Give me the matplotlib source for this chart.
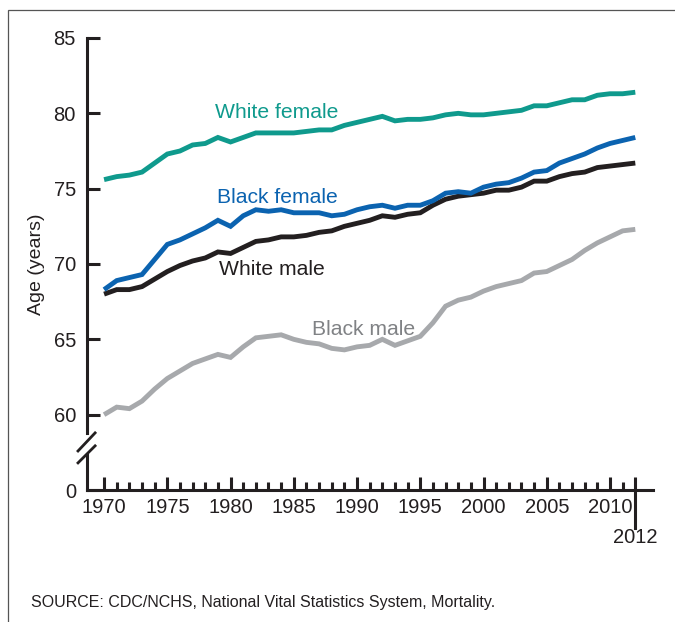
import matplotlib.pyplot as plt
from matplotlib.patches import Rectangle
from matplotlib.lines import Line2D
import matplotlib.transforms as mtransforms

plt.rcParams['font.family'] = ['Liberation Sans', 'DejaVu Sans']

years = list(range(1970, 2013))

white_female = [75.6, 75.8, 75.9, 76.1, 76.7, 77.3, 77.5, 77.9, 78.0, 78.4,
                78.1, 78.4, 78.7, 78.7, 78.7, 78.7, 78.8, 78.9, 78.9, 79.2,
                79.4, 79.6, 79.8, 79.5, 79.6, 79.6, 79.7, 79.9, 80.0, 79.9,
                79.9, 80.0, 80.1, 80.2, 80.5, 80.5, 80.7, 80.9, 80.9, 81.2,
                81.3, 81.3, 81.4]
black_female = [68.3, 68.9, 69.1, 69.3, 70.3, 71.3, 71.6, 72.0, 72.4, 72.9,
                72.5, 73.2, 73.6, 73.5, 73.6, 73.4, 73.4, 73.4, 73.2, 73.3,
                73.6, 73.8, 73.9, 73.7, 73.9, 73.9, 74.2, 74.7, 74.8, 74.7,
                75.1, 75.3, 75.4, 75.7, 76.1, 76.2, 76.7, 77.0, 77.3, 77.7,
                78.0, 78.2, 78.4]
white_male = [68.0, 68.3, 68.3, 68.5, 69.0, 69.5, 69.9, 70.2, 70.4, 70.8,
              70.7, 71.1, 71.5, 71.6, 71.8, 71.8, 71.9, 72.1, 72.2, 72.5,
              72.7, 72.9, 73.2, 73.1, 73.3, 73.4, 73.9, 74.3, 74.5, 74.6,
              74.7, 74.9, 74.9, 75.1, 75.5, 75.5, 75.8, 76.0, 76.1, 76.4,
              76.5, 76.6, 76.7]
black_male = [60.0, 60.5, 60.4, 60.9, 61.7, 62.4, 62.9, 63.4, 63.7, 64.0,
              63.8, 64.5, 65.1, 65.2, 65.3, 65.0, 64.8, 64.7, 64.4, 64.3,
              64.5, 64.6, 65.0, 64.6, 64.9, 65.2, 66.1, 67.2, 67.6, 67.8,
              68.2, 68.5, 68.7, 68.9, 69.4, 69.5, 69.9, 70.3, 70.9, 71.4,
              71.8, 72.2, 72.3]

# name, values, line colour, label colour, label x, label baseline y
series = [
    ('Black male', black_male, '#a7a9ac', '#808285', 1990.5, 65.3),
    ('White male', white_male, '#231f20', '#231f20', 1983.3, 69.27),
    ('Black female', black_female, '#0b63b0', '#0b63b0', 1983.7, 74.05),
    ('White female', white_female, '#0f9a8d', '#0f9a8d', 1983.65, 79.7),
]

y_ticks = [55, 60, 65, 70, 75, 80, 85]
y_labels = ['0', '60', '65', '70', '75', '80', '85']
x_major = [1970, 1975, 1980, 1985, 1990, 1995, 2000, 2005, 2010]

fig = plt.figure(figsize=(6.75, 6.22), dpi=100)
ax = fig.add_axes([87 / 675, 1 - 490 / 622, 566 / 675, 452 / 622])

for name, vals, color, tcolor, tx, ty in series:
    ax.plot(years, vals, color=color, lw=3.5, solid_capstyle='butt',
            solid_joinstyle='miter')
    ax.text(tx, ty, name, color=tcolor, fontsize=15.2, ha='center',
            va='baseline')

x0 = 1968.65
ax.set_xlim(x0, 2013.4)
ax.set_ylim(55, 85)

axis_color = '#231f20'
for s in ['top', 'right', 'left']:
    ax.spines[s].set_visible(False)
ax.spines['bottom'].set_color(axis_color)
ax.spines['bottom'].set_linewidth(2.2)

# y axis drawn in two pieces with a break
ax.plot([x0, x0], [58.8, 85], color=axis_color, lw=2.2, clip_on=False,
        solid_capstyle='projecting')
ax.plot([x0, x0], [55, 57.35], color=axis_color, lw=2.2, clip_on=False)
ax.plot([1967.94, 1969.29], [57.59, 58.79], color=axis_color, lw=2,
        clip_on=False)
ax.plot([1967.94, 1969.29], [56.8, 57.93], color=axis_color, lw=2,
        clip_on=False)

ax.set_yticks(y_ticks)
ax.set_yticklabels(y_labels)
ax.set_xticks(x_major + [2012])
ax.set_xticklabels([str(x) for x in x_major] + [''])
ax.set_xticks(years, minor=True)
ax.tick_params(axis='both', which='major', direction='in', length=9.5,
               width=2.2, color=axis_color, labelsize=14.5,
               labelcolor=axis_color)
ax.tick_params(axis='y', which='major', pad=8)
ax.tick_params(axis='x', which='major', pad=6)
ax.tick_params(axis='x', which='minor', direction='in', length=5.7,
               width=2.2, color=axis_color)
ax.tick_params(axis='y', which='minor', left=False)

# the 2012 tick runs below the axis with its own label
blend = mtransforms.blended_transform_factory(ax.transData, ax.transAxes)
ax.add_line(Line2D([2012, 2012], [0, -0.083], transform=blend,
                   color=axis_color, lw=2.2, clip_on=False))
ax.text(2012, -0.105, '2012', transform=blend, ha='center', va='center',
        fontsize=14.5, color=axis_color)

ax.set_ylabel('Age (years)', fontsize=14, color=axis_color, labelpad=6)

fig.text(31 / 675, 1 - 607 / 622,
         'SOURCE: CDC/NCHS, National Vital Statistics System, Mortality.',
         fontsize=11.5, color=axis_color, va='baseline')

fig.patches.append(Rectangle((8 / 675, -0.1), 1.2, 1 - 10 / 622 + 0.1,
                             transform=fig.transFigure, fill=False,
                             edgecolor='#555555', lw=0.9))

fig.savefig('out.png', dpi=100)
